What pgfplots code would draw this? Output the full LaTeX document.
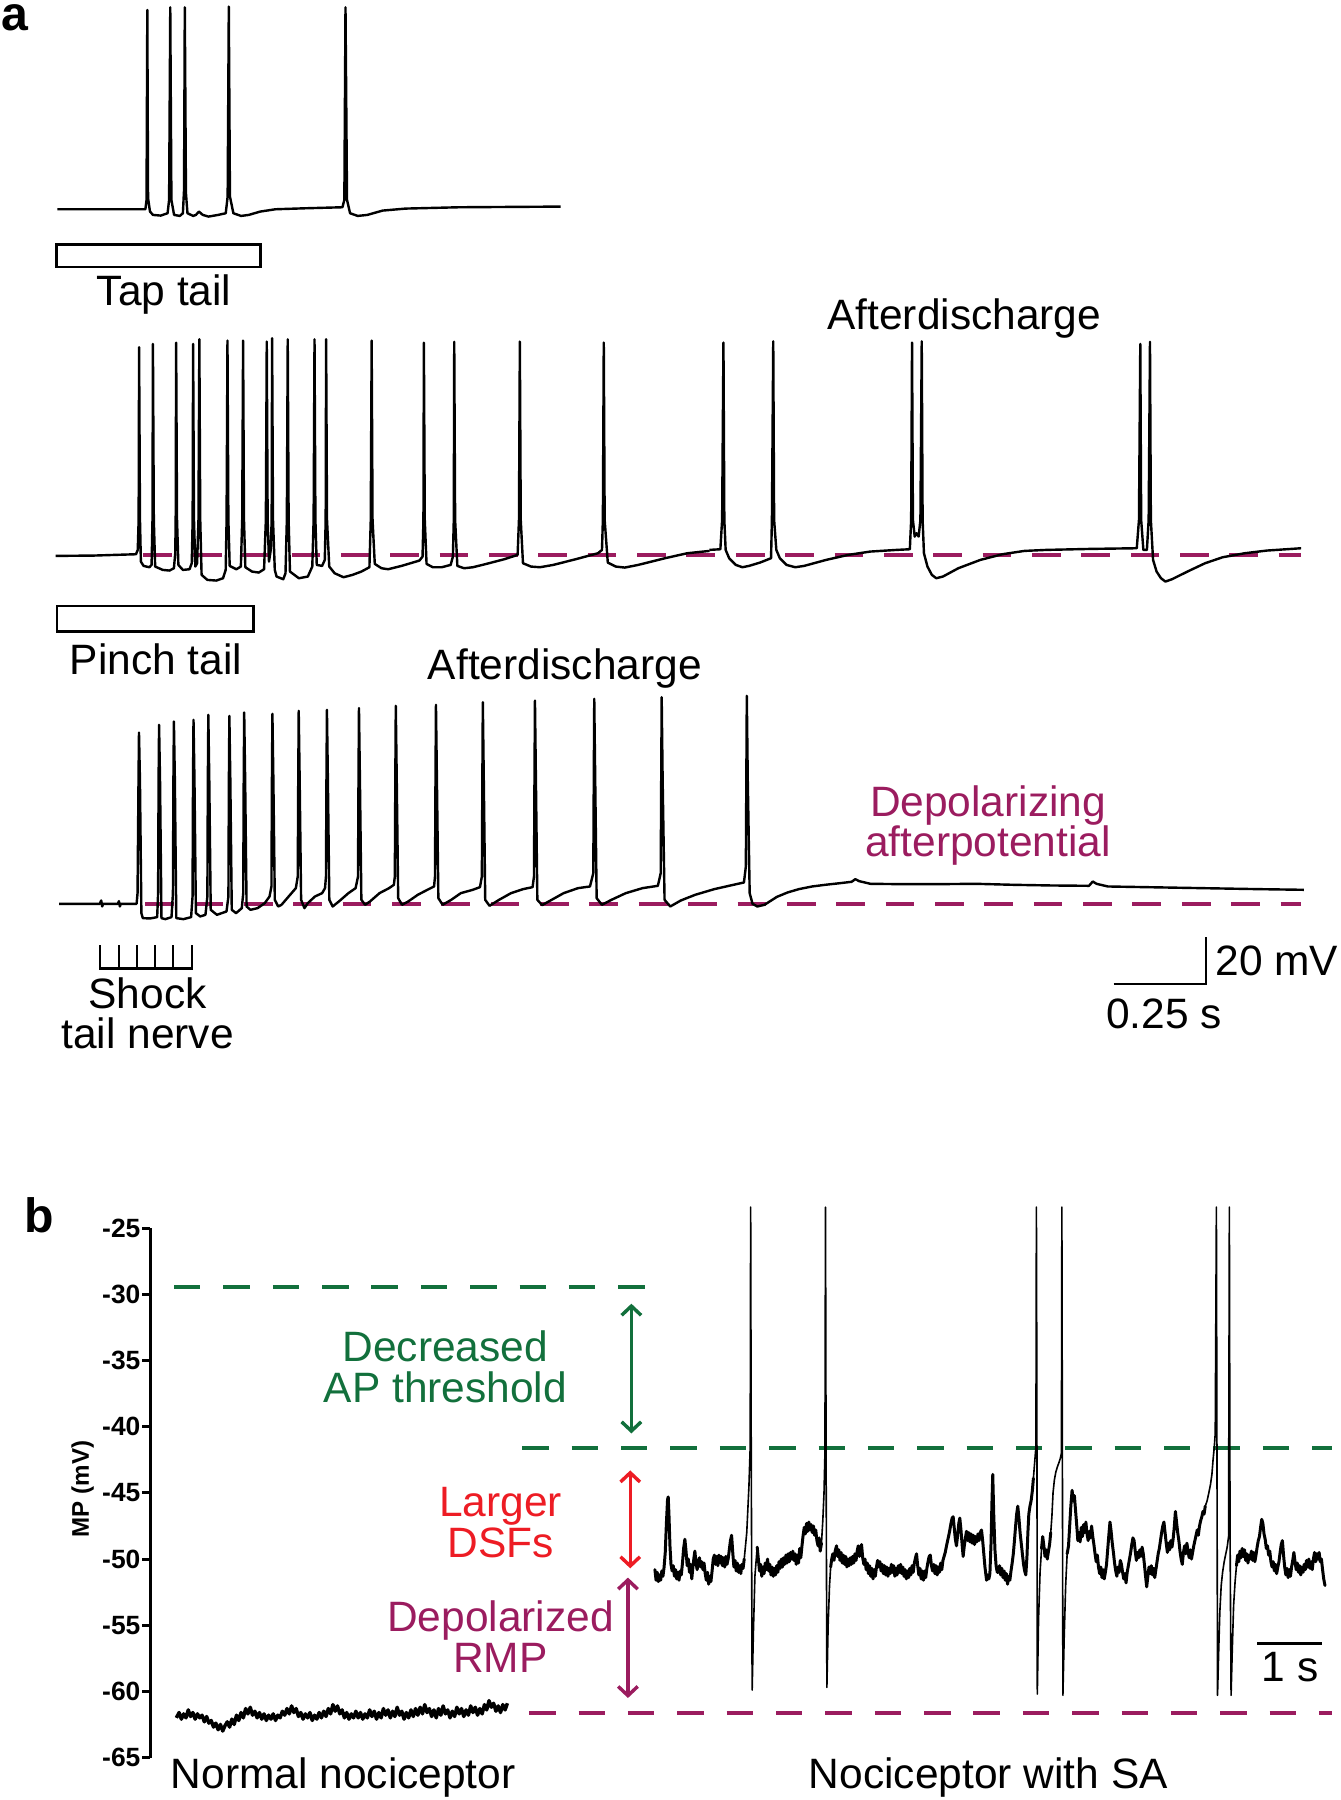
\documentclass[border=0pt]{standalone}
\usepackage{fontspec}
\setmainfont{Liberation Sans}
\usepackage{pgfplots}
\pgfplotsset{compat=1.18}
\usetikzlibrary{arrows.meta}
\definecolor{mag}{RGB}{155,28,95}
\definecolor{grn}{RGB}{18,112,60}
\definecolor{rd}{RGB}{237,28,36}
\newcommand{\lab}{\fontsize{37}{44}\selectfont}
\pgfplotsset{
  zoomax/.style={scale only axis, hide axis, clip=false, xmin=0, xmax=1568, ymax=0, anchor=north west},
  trace/.style={black, line width=2.1pt, line join=round, mark=none},
  thick trace/.style={black, line width=2.6pt, line join=round, line cap=round, mark=none},
  thin trace/.style={black, line width=1.4pt, line join=round, line cap=round, mark=none},
}
\begin{document}
\begin{tikzpicture}
\useasboundingbox (0pt,0pt) rectangle (1168pt,1568pt);
% ---------------- canvas (displayed pixel coordinates, y negated) ----------------
\begin{axis}[at={(0pt,0pt)}, anchor=south west, scale only axis, hide axis, clip=false,
  width=1168pt, height=1568pt, xmin=0, xmax=1168, ymin=-1568, ymax=0]
% stimulus boxes
\addplot[black, line width=2.2pt, mark=none, line cap=rect] coordinates {(49.3,-213) (226.7,-213) (226.7,-232.5) (49.3,-232.5) (49.3,-213)};
\addplot[black, line width=2.2pt, mark=none, line cap=rect] coordinates {(49.5,-528) (220.7,-528) (220.7,-550) (49.5,-550) (49.5,-528)};
% shock comb
\addplot[black, line width=2pt, mark=none] coordinates {(86.9,-823.3) (86.9,-843.7) (167.3,-843.7) (167.3,-823.3)};
\addplot[black, line width=2pt, mark=none] coordinates {(103.5,-843.7) (103.5,-823.3)};
\addplot[black, line width=2pt, mark=none] coordinates {(119.4,-843.7) (119.4,-823.3)};
\addplot[black, line width=2pt, mark=none] coordinates {(134.8,-843.7) (134.8,-823.3)};
\addplot[black, line width=2pt, mark=none] coordinates {(150.6,-843.7) (150.6,-823.3)};
% scale bars
\addplot[black, line width=2pt, mark=none] coordinates {(970,-857) (1050.4,-857) (1050.4,-816)};
\addplot[black, line width=2.5pt, mark=none] coordinates {(1095,-1432) (1152,-1432)};
% dashed reference lines, panel a
\addplot[mag, line width=3.5pt, mark=none, dash pattern=on 25pt off 18pt] coordinates {(125,-483.6) (1133,-483.6)};
\addplot[mag, line width=3.5pt, mark=none, dash pattern=on 25pt off 18pt] coordinates {(126.5,-787.5) (1133,-787.5)};
% texts
\node[anchor=base west, inner sep=0pt, text height=22pt, font=\fontsize{42}{50}\selectfont\bfseries] at (axis cs:1.5,-27) {a};
\node[anchor=base west, inner sep=0pt, font=\fontsize{42}{50}\selectfont\bfseries] at (axis cs:21,-1074) {b};
\node[anchor=base, font=\lab] at (axis cs:143,-266.4) {Tap tail};
\node[anchor=base, font=\lab] at (axis cs:840,-287) {Afterdischarge};
\node[anchor=base, font=\lab] at (axis cs:136,-588) {Pinch tail};
\node[anchor=base, font=\lab] at (axis cs:492,-592) {Afterdischarge};
\node[anchor=base, font=\lab, text=mag] at (axis cs:860.7,-711) {Depolarizing};
\node[anchor=base, font=\lab, text=mag] at (axis cs:860.7,-746) {afterpotential};
\node[anchor=base, font=\lab] at (axis cs:128.5,-878.3) {Shock};
\node[anchor=base, font=\lab] at (axis cs:128.5,-913.2) {tail nerve};
\node[anchor=base west, font=\lab, inner sep=0pt] at (axis cs:1058.6,-850) {20 mV};
\node[anchor=base, font=\lab] at (axis cs:1014,-896) {0.25 s};
\node[anchor=base, font=\lab, text=grn] at (axis cs:388,-1186) {Decreased};
\node[anchor=base, font=\lab, text=grn] at (axis cs:388,-1222) {AP threshold};
\node[anchor=base, font=\lab, text=rd] at (axis cs:436,-1321) {Larger};
\node[anchor=base, font=\lab, text=rd] at (axis cs:436,-1356.5) {DSFs};
\node[anchor=base, font=\lab, text=mag] at (axis cs:436,-1421.5) {Depolarized};
\node[anchor=base, font=\lab, text=mag] at (axis cs:436,-1457) {RMP};
\node[anchor=base, font=\lab] at (axis cs:299,-1558) {Normal nociceptor};
\node[anchor=base, font=\lab] at (axis cs:861,-1558) {Nociceptor with SA};
\node[anchor=base, font=\lab] at (axis cs:1124,-1465) {1 s};
\node[rotate=90, font=\fontsize{21}{25}\selectfont\bfseries] at (axis cs:72,-1297) {MP (mV)};
\end{axis}
% ---------------- trace 1 ----------------
\begin{axis}[zoomax, at={(0pt,1568pt)}, width=522.6pt, height=278.7pt, ymin=-960]
\addplot[trace] coordinates {(150,-628) (380,-628) (383,-600) (385,-30) (387,-595) (392,-635) (400,-645) (420,-647) (438,-640) (442,-600) (445,-22) (448,-600) (455,-645) (470,-648) (478,-640) (481,-570) (483,-22) (486,-580) (490,-640) (505,-648) (512,-645) (520,-635) (530,-645) (545,-650) (570,-645) (590,-640) (595,-590) (598,-20) (601,-590) (610,-640) (630,-648) (650,-645) (680,-635) (720,-628) (800,-625) (895,-622) (900,-600) (903,-22) (907,-600) (915,-640) (935,-648) (960,-645) (1000,-632) (1060,-626) (1200,-622) (1465,-620)};
\end{axis}
% ---------------- trace 2 ----------------
\begin{axis}[zoomax, at={(34.84pt,1289.28pt)}, width=609.7pt, height=261.3pt, ymin=-900]
\addplot[trace] coordinates {(35,-708) (120,-707) (215,-703) (219,-690) (221,-600) (222,-82) (224,-600) (226,-725) (232,-738) (245,-742) (250,-735) (252,-600) (253,-72) (255,-600) (258,-740) (275,-750) (290,-752) (300,-745) (303,-700) (304,-600) (305,-68) (307,-600) (310,-735) (320,-750) (335,-748) (340,-730) (342,-600) (343,-72) (345,-600) (348,-740) (352,-730) (355,-600) (357,-58) (359,-600) (362,-765) (375,-780) (395,-782) (410,-775) (416,-750) (418,-600) (420,-62) (422,-600) (425,-738) (440,-748) (450,-740) (453,-600) (455,-62) (457,-600) (460,-742) (475,-755) (490,-758) (502,-748) (506,-600) (508,-65) (510,-600) (513,-725) (517,-690) (519,-600) (520,-55) (522,-600) (526,-750) (530,-770) (545,-778) (550,-760) (553,-600) (555,-58) (557,-600) (560,-755) (580,-775) (600,-770) (610,-740) (613,-600) (615,-58) (617,-600) (620,-735) (632,-738) (638,-720) (640,-600) (641,-58) (643,-600) (648,-740) (660,-760) (680,-772) (700,-765) (720,-755) (738,-742) (741,-600) (743,-62) (745,-600) (750,-732) (765,-745) (780,-748) (810,-738) (850,-722) (857,-710) (859,-600) (860,-68) (862,-600) (866,-732) (880,-742) (900,-742) (920,-735) (925,-710) (927,-600) (928,-66) (930,-600) (935,-738) (950,-745) (970,-742) (1000,-732) (1040,-718) (1070,-705) (1073,-600) (1075,-65) (1077,-600) (1082,-730) (1100,-740) (1120,-742) (1150,-735) (1200,-718) (1250,-700) (1259,-690) (1261,-600) (1263,-68) (1265,-600) (1272,-728) (1290,-740) (1310,-743) (1340,-735) (1400,-715) (1450,-700) (1500,-693)};
\end{axis}
\begin{axis}[zoomax, at={(566.1pt,1289.28pt)}, width=601.85pt, height=261.3pt, ymin=-900]
\addplot[trace] coordinates {(135,-690) (160,-688) (164,-600) (167,-68) (169,-600) (172,-690) (180,-715) (195,-735) (210,-742) (225,-738) (250,-728) (275,-715) (277,-600) (280,-64) (282,-600) (287,-690) (295,-715) (310,-735) (330,-742) (350,-738) (400,-720) (450,-705) (500,-695) (560,-690) (590,-688) (593,-600) (595,-68) (597,-600) (601,-650) (605,-640) (610,-650) (614,-600) (617,-64) (619,-600) (622,-700) (630,-740) (640,-765) (650,-775) (665,-770) (700,-745) (750,-720) (800,-703) (850,-693) (900,-690) (1000,-687) (1105,-685) (1110,-600) (1113,-72) (1115,-600) (1120,-690) (1128,-690) (1132,-600) (1135,-66) (1137,-600) (1142,-720) (1150,-755) (1160,-775) (1170,-785) (1185,-778) (1220,-755) (1260,-730) (1300,-712) (1350,-700) (1400,-692) (1478,-685)};
\end{axis}
% ---------------- trace 3 ----------------
\begin{axis}[zoomax, at={(34.84pt,975.76pt)}, width=653.2pt, height=330.96pt, ymin=-1140]
\addplot[trace] coordinates {(40,-672) (125,-672) (128,-662) (130,-680) (132,-672) (163,-672) (165,-664) (167,-680) (169,-672) (202,-672) (204,-640) (206,-300) (207,-158) (209,-300) (212,-700) (215,-715) (230,-716) (245,-712) (247,-640) (248,-300) (249,-135) (251,-300) (254,-715) (262,-718) (275,-712) (278,-640) (279,-300) (280,-125) (282,-300) (285,-715) (300,-718) (316,-712) (319,-650) (320,-300) (321,-120) (323,-300) (326,-700) (335,-710) (346,-705) (350,-650) (351,-300) (352,-105) (354,-300) (357,-690) (370,-705) (390,-695) (394,-650) (395,-300) (396,-108) (398,-300) (401,-690) (410,-700) (422,-685) (425,-640) (426,-300) (427,-98) (429,-300) (432,-680) (440,-690) (455,-685) (470,-670) (480,-650) (484,-620) (485,-300) (486,-102) (488,-300) (491,-660) (498,-680) (505,-675) (520,-650) (535,-625) (539,-590) (540,-300) (541,-93) (543,-300) (546,-660) (553,-685) (560,-670) (575,-650) (590,-640) (596,-625) (598,-590) (599,-300) (600,-90) (602,-300) (605,-660) (612,-680) (625,-665) (645,-640) (660,-625) (665,-590) (666,-300) (667,-85) (669,-300) (672,-660) (680,-675) (690,-665) (710,-640) (730,-625) (740,-615) (742,-590) (743,-300) (744,-78) (746,-300) (749,-655) (757,-675) (770,-665) (790,-645) (810,-630) (824,-620) (826,-590) (827,-300) (828,-75) (830,-300) (833,-655) (842,-675) (860,-660) (880,-640) (905,-630) (920,-622) (924,-590) (925,-300) (926,-67) (928,-300) (931,-660) (940,-678) (960,-660) (985,-640) (1010,-628) (1030,-622) (1033,-590) (1034,-300) (1035,-62) (1037,-300) (1040,-660) (1050,-676) (1070,-660) (1095,-640) (1125,-625) (1150,-620) (1157,-580) (1158,-300) (1159,-57) (1161,-300) (1164,-655) (1175,-675) (1195,-660) (1225,-640) (1260,-625) (1292,-618) (1298,-580) (1299,-300) (1300,-52) (1302,-300) (1306,-660) (1318,-680) (1340,-662) (1370,-645) (1410,-628) (1450,-615) (1472,-608) (1476,-560) (1477,-300) (1478,-48) (1480,-300) (1484,-640) (1490,-672) (1500,-680) (1515,-675) (1540,-652)};
\end{axis}
\begin{axis}[zoomax, at={(653.2pt,975.76pt)}, width=514.7pt, height=330.96pt, ymin=-1140]
\addplot[trace] coordinates {(70,-652) (100,-638) (130,-628) (165,-620) (200,-615) (240,-610) (270,-606) (280,-598) (290,-604) (320,-612) (400,-613) (500,-613) (600,-612) (700,-615) (800,-617) (900,-618) (910,-605) (920,-612) (950,-620) (1050,-622) (1200,-625) (1350,-628) (1470,-630)};
\end{axis}
% ---------------- panel b ----------------
\begin{axis}[at={(131pt,37pt)}, anchor=south west, scale only axis, width=1037pt, height=461pt,
  xmin=131, xmax=1168, ymin=-65, ymax=-25, clip=false,
  axis x line=none, axis y line=left, axis line style={-, line width=2.6pt},
  ytick={-65,-60,-55,-50,-45,-40,-35,-30,-25},
  yticklabels={-65,-60,-55,-50,-45,-40,-35,-30,-25},
  tick align=outside, major tick length=7pt,
  every tick/.style={black, line width=2.6pt},
  yticklabel style={font=\fontsize{23}{27}\selectfont\bfseries, inner sep=1.5pt}]
\addplot[grn, line width=3.5pt, mark=none, dash pattern=on 23pt off 20pt] coordinates {(151.6,-29.4) (565.7,-29.4)};
\addplot[grn, line width=3.5pt, mark=none, dash pattern=on 23pt off 20pt] coordinates {(455,-41.6) (1160,-41.6)};
\addplot[mag, line width=3.5pt, mark=none, dash pattern=on 23pt off 20pt] coordinates {(461,-61.65) (1160,-61.65)};
\addplot[grn, line width=3pt, mark=none, {Straight Barb[length=8pt,width=17pt]}-{Straight Barb[length=8pt,width=17pt]}] coordinates {(550,-30.7) (550,-40.5)};
\addplot[rd, line width=3pt, mark=none, {Straight Barb[length=8pt,width=17pt]}-{Straight Barb[length=8pt,width=17pt]}] coordinates {(549,-43.3) (549,-50.7)};
\addplot[mag, line width=3pt, mark=none, {Straight Barb[length=8pt,width=17pt]}-{Straight Barb[length=8pt,width=17pt]}] coordinates {(547,-51.4) (547,-60.5)};
% normal nociceptor
\addplot[black, line width=3pt, mark=none, line join=round] coordinates {(153.6,-62.0) (156,-61.6) (158,-62.1) (160,-61.7) (162,-62.0) (164,-61.4) (166,-61.9) (168,-61.6) (170,-62.1) (172,-61.7) (174,-62.0) (176,-61.8) (178,-62.3) (180,-61.9) (182,-62.4) (184,-62.2) (186,-62.7) (188,-62.4) (190,-62.9) (192,-62.5) (194,-63.0) (196,-62.6) (198,-62.3) (200,-62.7) (202,-62.1) (204,-62.5) (206,-61.8) (208,-62.2) (210,-61.6) (212,-62.0) (214,-61.3) (216,-61.7) (218,-61.2) (220,-61.8) (222,-61.5) (224,-62.0) (226,-61.6) (228,-62.1) (230,-61.7) (232,-62.2) (234,-61.8) (236,-62.1) (238,-61.7) (240,-62.2) (242,-61.8) (244,-62.0) (246,-61.5) (248,-61.8) (250,-61.3) (252,-61.7) (254,-61.1) (256,-61.6) (258,-61.3) (260,-61.9) (262,-61.6) (264,-62.1) (266,-61.7) (268,-62.0) (270,-61.6) (272,-62.2) (274,-61.8) (276,-62.1) (278,-61.6) (280,-62.0) (282,-61.5) (284,-61.9) (286,-61.3) (288,-61.7) (290,-61.0) (292,-61.5) (294,-61.1) (296,-61.7) (298,-61.4) (300,-62.0) (302,-61.6) (304,-62.1) (306,-61.7) (308,-62.0) (310,-61.5) (312,-62.0) (314,-61.6) (316,-62.1) (318,-61.7) (320,-62.0) (322,-61.4) (324,-61.9) (326,-61.5) (328,-62.1) (330,-61.6) (332,-62.0) (334,-61.3) (336,-61.8) (338,-61.4) (340,-62.0) (342,-61.5) (344,-61.9) (346,-61.2) (348,-61.8) (350,-61.5) (352,-62.1) (354,-61.6) (356,-62.0) (358,-61.4) (360,-61.9) (362,-61.3) (364,-61.8) (366,-61.2) (368,-61.7) (370,-61.0) (372,-61.6) (374,-61.3) (376,-61.9) (378,-61.4) (380,-62.0) (382,-61.3) (384,-61.8) (386,-61.1) (388,-61.7) (390,-61.4) (392,-62.0) (394,-61.5) (396,-61.9) (398,-61.2) (400,-61.7) (402,-61.3) (404,-61.9) (406,-61.4) (408,-61.8) (410,-61.1) (412,-61.6) (414,-61.2) (416,-61.8) (418,-61.3) (420,-61.7) (422,-61.0) (424,-61.4) (426,-60.7) (428,-61.2) (430,-60.9) (432,-61.5) (434,-61.1) (436,-61.6) (438,-61.0) (440,-61.4) (442,-60.9)};
% nociceptor with SA: noisy segments (thick) and spikes (thin)
\addplot[thick trace] coordinates {(570.5,-50.8) (571.5,-51.6) (572.5,-51.0) (573.5,-51.7) (574.5,-51.2) (575.5,-51.6) (576.5,-50.9) (577.5,-51.3) (578.5,-50.6) (579.5,-49.5) (580.5,-47.3) (581.5,-45.5) (582.1,-45.3) (582.8,-46.8) (583.6,-49.0) (584.5,-50.4) (585.5,-50.9) (586.5,-50.5) (587.5,-51.3) (588.5,-50.8) (589.5,-51.5) (590.5,-51.0) (591.5,-51.6) (592.5,-50.9) (593.5,-51.2) (594.5,-50.3) (595.5,-49.2) (596.6,-48.5) (597.6,-49.4) (598.6,-50.5) (599.6,-50.0) (600.6,-51.0) (601.6,-50.4) (602.6,-51.5) (603.6,-50.6) (604.5,-49.9) (605.3,-49.4) (606.3,-50.3) (607.3,-50.8) (608.3,-50.2) (609.3,-49.9) (610.3,-50.6) (611.3,-50.2) (612.3,-50.8) (613.3,-50.3) (614.3,-51.1) (615.3,-51.6) (616.3,-51.0) (617.3,-51.9) (618.3,-51.3) (619.3,-51.7) (620.3,-50.9) (621.3,-50.0) (622.3,-49.7) (623.3,-50.4) (624.3,-49.8) (625.3,-50.5) (626.3,-49.7) (627.3,-50.3) (628.3,-49.8) (629.3,-50.5) (630.3,-49.9) (631.3,-50.6) (632.3,-49.8) (633.3,-50.4) (634.3,-50.0) (635.3,-49.3) (636.3,-48.6) (637.3,-48.2) (638.3,-49.5) (639.3,-50.6) (640.3,-50.1) (641.3,-50.9) (642.3,-50.3) (643.3,-51.0) (644.3,-50.5) (645.3,-51.1) (646.3,-50.4) (647.3,-50.7) (648.3,-50.0)};
\addplot[thin trace] coordinates {(648.3,-50.0) (650.5,-48.0) (652.4,-44.5) (653.5,-41.5) (653.9,-23.4) (654.4,-42.0) (655.2,-59.9) (656.3,-55.5) (657.6,-51.3) (659.6,-49.1)};
\addplot[thick trace] coordinates {(659.6,-49.1) (660.6,-50.0) (661.6,-50.9) (662.6,-50.4) (663.6,-51.3) (664.6,-50.6) (665.6,-51.1) (666.6,-50.3) (667.6,-50.8) (668.6,-50.0) (669.6,-50.9) (670.6,-50.4) (671.6,-51.2) (672.6,-50.6) (673.6,-51.3) (674.6,-50.7) (675.6,-51.2) (676.6,-50.5) (677.6,-51.0) (678.6,-50.2) (679.6,-50.7) (680.6,-50.0) (681.6,-50.6) (682.6,-49.9) (683.6,-50.4) (684.6,-49.7) (685.6,-50.3) (686.6,-49.6) (687.6,-50.2) (688.6,-49.5) (689.6,-50.0) (690.6,-49.4) (691.6,-50.1) (692.6,-49.6) (693.6,-50.4) (694.6,-49.7) (695.6,-50.3) (696.6,-49.2) (697.6,-49.9) (698.6,-49.0) (699.6,-48.2) (700.6,-47.6) (701.6,-48.1) (702.6,-47.3) (703.6,-47.9) (704.6,-47.2) (705.6,-47.8) (706.6,-47.4) (707.6,-48.0) (708.6,-47.5) (709.6,-48.2) (710.6,-47.8) (711.6,-48.6) (712.6,-49.0) (713.6,-48.4) (714.5,-49.4) (715.6,-48.8)};
\addplot[thin trace] coordinates {(715.6,-48.8) (716.8,-47.0) (717.8,-45.0) (718.6,-42.0) (719.1,-23.4) (719.6,-42.0) (720.3,-59.7) (721.4,-55.0) (722.6,-52.0) (723.6,-50.6)};
\addplot[thick trace] coordinates {(723.6,-50.6) (724.5,-50.0) (725.5,-49.6) (726.5,-50.1) (727.5,-49.4) (728.7,-49.0) (729.7,-49.8) (730.7,-49.3) (731.7,-50.1) (732.7,-49.5) (733.7,-50.3) (734.7,-49.7) (735.7,-50.4) (736.7,-49.8) (737.7,-50.6) (738.7,-50.0) (739.7,-50.5) (740.7,-49.9) (741.7,-50.4) (742.7,-49.8) (743.7,-50.3) (744.7,-49.6) (745.7,-50.1) (746.7,-49.4) (747.6,-49.0) (748.6,-49.8) (749.6,-49.3) (750.5,-48.9) (751.5,-49.9) (752.5,-50.4) (753.5,-50.0) (754.5,-50.8) (755.5,-50.3) (756.5,-51.1) (757.5,-50.5) (758.5,-51.3) (759.5,-50.7) (760.5,-51.5) (761.5,-50.8) (762.5,-51.3) (763.5,-50.6) (764.5,-50.1) (765.5,-50.6) (766.5,-50.2) (767.5,-50.9) (768.5,-50.4) (769.5,-51.1) (770.5,-50.5) (771.5,-51.2) (772.5,-50.6) (773.5,-51.3) (774.5,-50.7) (775.5,-51.1) (776.5,-50.4) (777.5,-51.0) (778.5,-50.5) (779.5,-51.3) (780.5,-50.7) (781.5,-51.2) (782.5,-50.5) (783.5,-51.0) (784.5,-50.4) (785.5,-51.1) (786.5,-50.6) (787.5,-51.3) (788.5,-50.8) (789.5,-51.5) (790.5,-50.9) (791.5,-51.4) (792.5,-50.7) (793.5,-51.2) (794.5,-50.5) (795.5,-51.0) (796.5,-50.3) (797.5,-49.9) (798.4,-49.6) (799.4,-50.5) (800.4,-51.2) (801.4,-50.7) (802.4,-51.5) (803.4,-50.9) (804.4,-51.6) (805.4,-50.9) (806.4,-51.4) (807.4,-50.7) (808.4,-50.2) (809.4,-49.8) (810.4,-49.7) (811.4,-50.5) (812.4,-50.9) (813.4,-50.4) (814.4,-51.1) (815.4,-50.5) (816.4,-51.2) (817.4,-50.6) (818.4,-51.0) (819.4,-50.3) (820.4,-50.8) (821.4,-50.1) (822.4,-49.8) (823.4,-49.5) (824.5,-49.0) (825.5,-48.6) (826.5,-48.2) (827.4,-47.8) (828.4,-47.3) (829.4,-46.9) (830.3,-46.8) (831.2,-47.6) (832.2,-48.5) (833.2,-49.0) (834.2,-48.2) (835.2,-47.3) (836.1,-46.9) (837.1,-47.8) (838.1,-48.9) (839.0,-49.8) (840.0,-49.0) (841.0,-48.4) (841.9,-47.9) (842.9,-48.6) (843.9,-48.0) (844.9,-48.7) (845.9,-48.1) (846.9,-48.8) (847.9,-48.2) (848.9,-48.9) (849.9,-48.3) (850.9,-48.7) (851.9,-48.1) (852.9,-48.6) (853.9,-48.0) (855.0,-47.8) (856.0,-48.6) (857.0,-49.6) (858.0,-50.6) (859.4,-51.6) (860.4,-51.2) (861.4,-51.5) (862.3,-51.1) (863.3,-48.8) (864.0,-46.0) (864.8,-43.6) (865.6,-46.5) (866.7,-49.3) (867.7,-50.5) (868.7,-51.0) (869.7,-51.0) (870.7,-50.5) (871.7,-51.2) (872.7,-50.7) (873.7,-51.4) (874.7,-50.9) (875.7,-51.6) (876.7,-51.1) (877.7,-51.9) (878.7,-51.3) (879.7,-51.6) (880.7,-50.9) (881.7,-50.3) (882.7,-49.6) (883.7,-48.6) (884.6,-47.6) (885.6,-46.6) (886.6,-46.0) (887.6,-46.9) (888.6,-48.0) (889.6,-48.8) (890.6,-49.6) (891.6,-50.4) (892.6,-50.9) (893.6,-51.2) (894.6,-49.8) (895.4,-48.0) (896.2,-46.6) (897.2,-46.0) (898.2,-45.6) (899.2,-44.9) (900.2,-43.9)};
\addplot[thin trace] coordinates {(900.2,-43.9) (901.2,-42.8) (902.4,-41.5) (902.8,-23.4) (903.2,-36.5) (903.6,-60.2) (904.7,-54.5) (906.0,-51.0) (907.3,-49.2)};
\addplot[thick trace] coordinates {(907.3,-49.2) (908.3,-48.3) (909.3,-49.0) (910.3,-49.8) (911.3,-49.3) (912.3,-50.0) (913.3,-49.4) (914.3,-48.9) (915.3,-48.0)};
\addplot[thin trace] coordinates {(915.3,-48.0) (916.3,-46.8) (917.3,-45.0) (918.5,-44.0) (919.8,-43.4) (921.2,-43.0) (922.5,-42.7) (923.6,-42.4) (924.6,-42.0) (925.0,-23.4) (925.4,-40.0) (925.9,-60.3) (927.0,-56.0) (928.3,-52.0) (929.6,-49.6)};
\addplot[thick trace] coordinates {(929.6,-49.6) (930.8,-49.0) (931.8,-47.5) (932.8,-46.0) (933.9,-44.8) (934.9,-45.6) (935.9,-45.2) (936.9,-46.3) (937.9,-47.4) (938.9,-48.6) (939.9,-48.0) (940.9,-48.7) (941.9,-47.6) (942.9,-48.3) (943.9,-47.4) (944.9,-48.0) (945.9,-47.2) (946.9,-48.1) (947.9,-48.6) (948.9,-47.9) (949.9,-48.4) (950.9,-47.5) (951.9,-48.3) (952.9,-48.9) (953.9,-49.6) (954.9,-50.2) (955.9,-49.7) (956.9,-50.6) (957.9,-51.1) (958.9,-50.6) (959.9,-51.4) (960.9,-50.8) (961.9,-51.5) (962.9,-51.0) (963.9,-50.4) (964.9,-49.3) (965.9,-48.2) (966.9,-47.2) (967.9,-47.9) (968.9,-48.8) (969.9,-49.5) (970.9,-50.3) (971.9,-50.9) (972.9,-51.3) (973.9,-50.6) (974.9,-51.0) (975.9,-50.1) (976.9,-50.4) (977.9,-51.0) (978.9,-51.5) (979.9,-51.1) (980.9,-51.8) (981.9,-51.0) (982.9,-50.5) (983.9,-50.0) (984.9,-49.5) (985.9,-48.9) (986.9,-48.4) (987.9,-48.6) (988.9,-49.4) (989.9,-50.1) (990.9,-49.5) (991.9,-49.9) (992.9,-49.3) (993.9,-49.8) (994.9,-49.1) (995.9,-49.6) (996.9,-50.4) (997.9,-51.3) (998.9,-52.1) (999.9,-51.3) (1000.9,-50.6) (1001.9,-51.1) (1002.9,-50.5) (1003.9,-51.2) (1004.9,-50.7) (1005.9,-51.4) (1006.9,-50.8) (1007.9,-50.2) (1008.9,-49.6) (1009.9,-49.2) (1010.9,-48.6) (1011.9,-48.0) (1012.9,-47.5) (1013.9,-47.2) (1014.9,-48.0) (1015.9,-48.8) (1016.9,-49.5) (1017.9,-48.8) (1018.9,-49.3) (1019.9,-48.6) (1020.9,-49.1) (1021.9,-48.5) (1022.9,-47.6) (1023.9,-46.4) (1024.9,-47.2) (1025.9,-48.0) (1026.9,-48.6) (1027.9,-49.4) (1028.9,-50.0) (1029.9,-50.4) (1030.9,-49.5) (1031.9,-49.0) (1032.9,-49.6) (1033.9,-48.8) (1034.9,-49.4) (1035.9,-49.9) (1036.9,-49.3) (1037.9,-50.0) (1038.9,-49.5) (1039.9,-49.0) (1040.9,-48.6) (1041.9,-48.2) (1042.9,-47.8) (1043.9,-48.2) (1044.9,-47.5) (1045.9,-47.1) (1046.9,-46.8) (1047.9,-46.4) (1048.9,-46.6) (1049.9,-46.0)};
\addplot[thin trace] coordinates {(1049.9,-46.0) (1051.5,-45.6) (1053.0,-45.0) (1054.4,-44.4) (1055.7,-43.6) (1056.7,-42.5) (1057.8,-41.5) (1058.6,-40.5) (1059.6,-23.4) (1060.1,-42.0) (1060.6,-60.3) (1061.6,-57.0) (1062.6,-54.0) (1063.8,-52.0) (1065.0,-51.0) (1066.4,-50.2) (1067.8,-49.6) (1069.0,-49.1) (1070.2,-48.3) (1070.9,-23.4) (1071.5,-48.0) (1072.4,-60.3) (1073.4,-57.0) (1074.6,-53.5) (1075.9,-51.7) (1077.1,-50.5)};
\addplot[thick trace] coordinates {(1077.1,-50.5) (1078.1,-49.7) (1079.1,-50.2) (1080.1,-49.4) (1081.1,-49.9) (1082.1,-49.2) (1083.1,-49.8) (1084.1,-49.3) (1085.1,-50.1) (1086.1,-49.6) (1087.1,-50.3) (1088.1,-49.7) (1089.1,-50.0) (1090.1,-49.4) (1091.1,-50.1) (1092.1,-49.5) (1093.1,-50.2) (1094.1,-49.7) (1095.1,-49.1) (1096.1,-48.6) (1097.1,-48.3) (1098.1,-47.6) (1099.1,-47.0) (1100.1,-47.3) (1101.1,-48.1) (1102.1,-48.5) (1103.1,-49.2) (1104.1,-49.0) (1105.1,-49.7) (1106.1,-49.4) (1107.1,-50.2) (1108.1,-50.6) (1109.1,-50.2) (1110.1,-50.9) (1111.1,-50.4) (1112.1,-51.1) (1113.1,-50.6) (1114.1,-50.2) (1115.1,-49.5) (1116.1,-48.9) (1117.1,-48.6) (1118.1,-49.7) (1119.1,-50.6) (1120.1,-51.2) (1121.1,-50.7) (1122.1,-51.4) (1123.1,-50.8) (1124.1,-51.3) (1125.1,-50.6) (1126.1,-50.1) (1127.1,-49.5) (1128.1,-50.2) (1129.1,-50.8) (1130.1,-50.3) (1131.1,-51.0) (1132.1,-50.5) (1133.1,-51.2) (1134.1,-50.6) (1135.1,-51.0) (1136.1,-50.4) (1137.1,-50.8) (1138.1,-50.1) (1139.1,-50.6) (1140.1,-50.0) (1141.1,-50.7) (1142.1,-50.2) (1143.1,-50.8) (1144.1,-50.0) (1145.1,-49.5) (1146.1,-50.2) (1147.1,-49.6) (1148.1,-50.0) (1149.1,-49.5) (1150.1,-50.2) (1151.1,-50.0) (1152.1,-50.8) (1153.1,-51.5) (1154.2,-52.0)};
\end{axis}
\end{tikzpicture}
\end{document}
